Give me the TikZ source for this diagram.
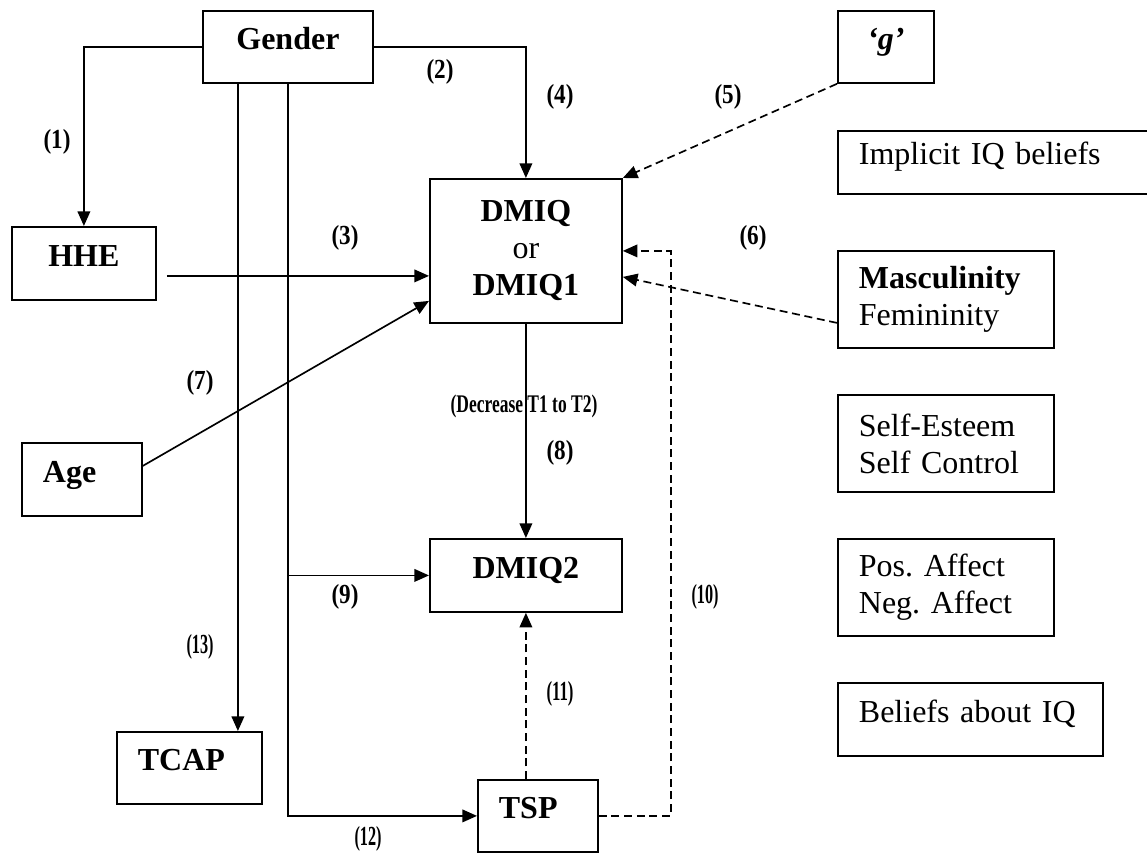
\documentclass[tikz,border=0pt]{standalone}
\usepackage{fontspec}
\setmainfont{Liberation Serif}
\usepackage{graphicx}
\usetikzlibrary{arrows.meta,calc}
\newcommand{\lab}[1]{\resizebox*{20.25pt}{18.75pt}{\bfseries #1}}
\frenchspacing
\begin{document}
\begin{tikzpicture}[x=0.75pt,y=-0.75pt,
  base/.style={draw, line width=1.35pt, rectangle, anchor=north west, inner sep=0pt,
    font=\fontsize{24}{27.75}\selectfont},
  one/.style={text height=0.7em, text depth=0.29em},
  cbox/.style 2 args={base, minimum width=#1, minimum height=#2, align=center},
  lbox/.style 2 args={base, text width=#1, inner xsep=15.75pt, minimum height=#2, align=left},
  arr/.style={line width=1.25pt, -{Triangle[length=11pt,width=9.5pt]}},
  darr/.style={arr, dash pattern=on 6pt off 3.5pt},
  lbl/.style={inner sep=0pt}
]
\useasboundingbox (0,0) rectangle (1147,854);

% boxes
\node[cbox={127.5pt}{54pt}, one, font=\fontsize{24}{27.75}\selectfont\bfseries] (gender) at (202,10) {Gender};
\node[cbox={108pt}{54.75pt}, one, font=\fontsize{24}{27.75}\selectfont\bfseries] (hhe) at (11,226) {HHE};
\node[cbox={144pt}{108pt}] (dmiq) at (429,178) {\textbf{DMIQ}\\or\\\textbf{DMIQ1}};
\node[cbox={72pt}{54pt}, one, font=\fontsize{24}{27.75}\selectfont\bfseries\itshape] (g) at (837,10) {‘g’};
\node[lbox={202.5pt}{47.25pt}, text height=0.62em, text depth=0.3em] (impl) at (837,130) {Implicit IQ beliefs};
\node[lbox={130.5pt}{72.75pt}] (masc) at (837,250) {\textbf{Masculinity}\\Femininity};
\node[lbox={130.5pt}{72.75pt}] (self) at (837,394) {Self-Esteem\\Self Control};
\node[lbox={130.5pt}{72.75pt}] (aff) at (837,538) {Pos. Affect\\Neg. Affect};
\node[lbox={167.25pt}{54.75pt}, one] (beliefs) at (837,682) {Beliefs about IQ};
\node[lbox={58.5pt}{54.75pt}, one, font=\fontsize{24}{27.75}\selectfont\bfseries] (age) at (21,442) {Age};
\node[cbox={144pt}{54.75pt}, one, font=\fontsize{24}{27.75}\selectfont\bfseries] (dmiq2) at (429,538) {DMIQ2};
\node[lbox={77.25pt}{54pt}, one, font=\fontsize{24}{27.75}\selectfont\bfseries] (tcap) at (116,731) {TCAP};
\node[lbox={58.5pt}{54pt}, one, font=\fontsize{24}{27.75}\selectfont\bfseries] (tsp) at (477,779) {TSP};

% solid connectors
\draw[arr] (gender.west) -| (hhe.north);
\draw[arr] (gender.east) -| (dmiq.north);
\coordinate (h3) at ($(hhe.east)+(10,12.5)$);
\draw[arr] (h3) -- (h3 -| dmiq.west);
\coordinate (gl) at ($(gender.south)+(-50,0)$);
\draw[arr] (gl) -- (gl |- tcap.north);
\draw[arr] (gender.south) |- (tsp.west);
\draw[arr] (gender.south |- dmiq2.west) -- (dmiq2.west);
\coordinate (a1) at ($(age.east)+(0,-13.5)$);
\coordinate (a2) at ($(dmiq.west)+(0,50)$);
\draw[arr] (a1) -- (a2);
\draw[arr] (dmiq.south) -- (dmiq2.north);

% dashed connectors
\draw[darr] (g.south west) -- (dmiq.north east);
\coordinate (m1) at ($(masc.west)+(0,23.5)$);
\coordinate (m2) at ($(dmiq.east)+(0,26)$);
\draw[darr] (m1) -- (m2);
\draw[darr] (tsp.east) -- ++(72,0) |- (dmiq.east);
\draw[darr] (dmiq2.south |- tsp.north) -- (dmiq2.south);

% labels
\node[lbl] (l1) at (57,142) {\lab{(1)}};
\node[lbl] (l2) at (440,72) {\lab{(2)}};
\node[lbl] (l3) at (345,238) {\lab{(3)}};
\node[lbl] (l4) at (560,97) {\lab{(4)}};
\node[lbl] (l5) at (728,97) {\lab{(5)}};
\node[lbl] (l6) at (753,238) {\lab{(6)}};
\node[lbl] (l7) at (200,383) {\lab{(7)}};
\node[lbl] (l8) at (560,453) {\lab{(8)}};
\node[lbl] (l9) at (345,597) {\lab{(9)}};
\node[lbl] (l10) at (705,597) {\lab{(10)}};
\node[lbl] (l11) at (560,694) {\lab{(11)}};
\node[lbl] (l12) at (368,839) {\lab{(12)}};
\node[lbl] (l13) at (200,647) {\lab{(13)}};
\node[lbl] (ldec) at (524,406) {\resizebox*{110pt}{17.25pt}{\bfseries (Decrease T1 to T2)}};
\end{tikzpicture}
\end{document}
